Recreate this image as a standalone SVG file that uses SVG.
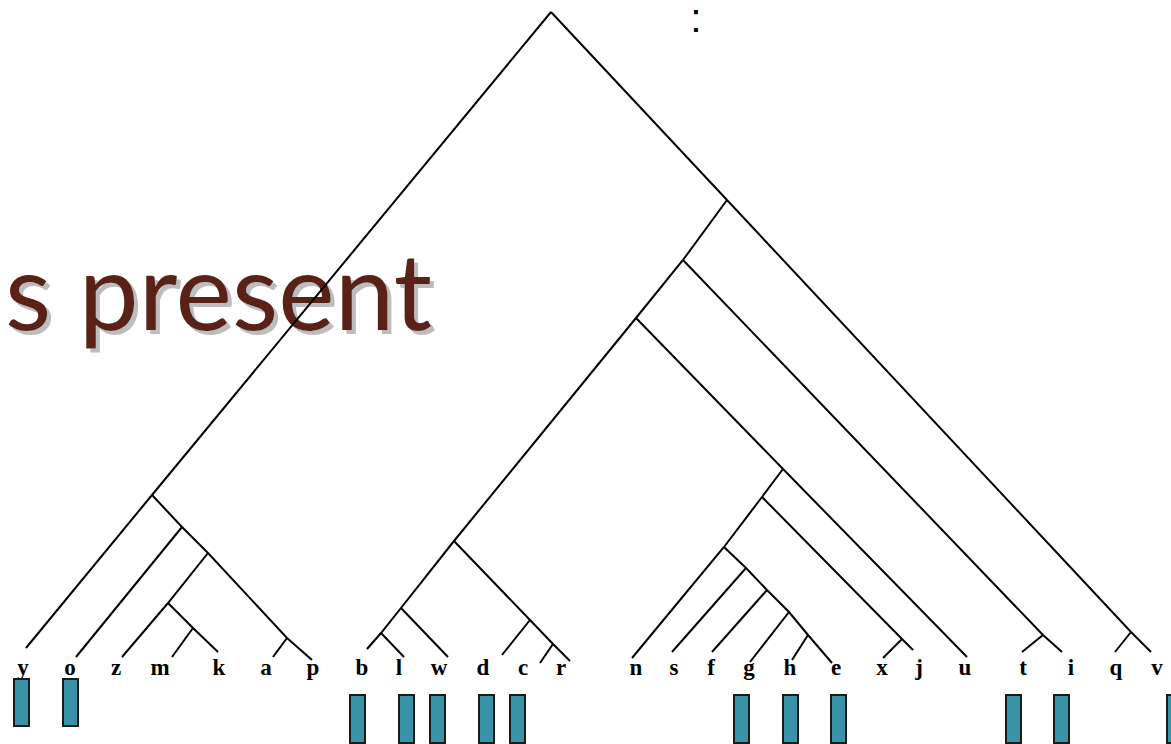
<svg xmlns="http://www.w3.org/2000/svg" width="1171" height="744" viewBox="0 0 1171 744">
<style>
.title{font-family:Lato,"Open Sans",sans-serif;font-size:107px;fill:#5a2416}
.lbl{font-family:"Liberation Serif","Times New Roman",serif;font-weight:bold;font-size:23px;text-anchor:middle;fill:#000}
.edge{fill:none;stroke:#000;stroke-width:2;stroke-linejoin:miter}
.bar{fill:#3a92a7;stroke:#1a1a1a;stroke-width:2}
</style>
<defs>
<filter id="shadow" x="-5%" y="-10%" width="115%" height="130%">
<feDropShadow dx="4" dy="4" stdDeviation="0.6" flood-color="#bdbdbd" flood-opacity="1"/>
</filter>
</defs>
<rect width="1171" height="744" fill="#fff"/>
<g id="title">
<text class="title" x="5" y="330" filter="url(#shadow)">s present</text>
</g>
<g id="ellipsis">
<text x="696" y="32" font-family="Liberation Sans,Arial,sans-serif" font-size="41" text-anchor="middle" fill="#000">:</text>
</g>
<g id="connectors">
<polyline class="edge" points="551,12 152,495 26,648"/>
<polyline class="edge" points="551,12 727,200 1131,632 1151,652"/>
<line class="edge" x1="1131" y1="632" x2="1115" y2="652"/>
<polyline class="edge" points="727,200 683,260 636,318 454,541 401,608 381,633 367,649"/>
<polyline class="edge" points="683,260 1043,635 1062,652"/>
<line class="edge" x1="1043" y1="635" x2="1022" y2="652"/>
<polyline class="edge" points="636,318 783,469 967,657"/>
<polyline class="edge" points="783,469 762,497 724,547 632,658"/>
<polyline class="edge" points="762,497 902,639 913,650"/>
<line class="edge" x1="902" y1="639" x2="883" y2="658"/>
<polyline class="edge" points="724,547 746,568 767,590 789,612 808,635 832,663"/>
<line class="edge" x1="746" y1="568" x2="672" y2="652"/>
<line class="edge" x1="767" y1="590" x2="712" y2="652"/>
<line class="edge" x1="789" y1="612" x2="750" y2="662"/>
<line class="edge" x1="808" y1="635" x2="792" y2="660"/>
<polyline class="edge" points="454,541 530,620 553,644 570,661"/>
<line class="edge" x1="530" y1="620" x2="502" y2="655"/>
<line class="edge" x1="553" y1="644" x2="540" y2="663"/>
<line class="edge" x1="401" y1="608" x2="448" y2="657"/>
<line class="edge" x1="381" y1="633" x2="404" y2="657"/>
<polyline class="edge" points="152,495 182,527 208,553 287,638 312,660"/>
<line class="edge" x1="182" y1="527" x2="76" y2="657"/>
<polyline class="edge" points="208,553 168,603 122,657"/>
<polyline class="edge" points="168,603 193,628 218,652"/>
<line class="edge" x1="193" y1="628" x2="172" y2="657"/>
<line class="edge" x1="287" y1="638" x2="273" y2="657"/>
</g>
<g id="leaves">
<text class="lbl" x="23" y="675">y</text>
<text class="lbl" x="70" y="675">o</text>
<text class="lbl" x="116" y="675">z</text>
<text class="lbl" x="160" y="675">m</text>
<text class="lbl" x="219" y="675">k</text>
<text class="lbl" x="266" y="675">a</text>
<text class="lbl" x="313" y="675">p</text>
<text class="lbl" x="362" y="675">b</text>
<text class="lbl" x="399" y="675">l</text>
<text class="lbl" x="439" y="675">w</text>
<text class="lbl" x="483" y="675">d</text>
<text class="lbl" x="523" y="675">c</text>
<text class="lbl" x="561" y="675">r</text>
<text class="lbl" x="636" y="675">n</text>
<text class="lbl" x="674" y="675">s</text>
<text class="lbl" x="711" y="675">f</text>
<text class="lbl" x="749" y="675">g</text>
<text class="lbl" x="790" y="675">h</text>
<text class="lbl" x="836" y="675">e</text>
<text class="lbl" x="882" y="675">x</text>
<text class="lbl" x="919" y="675">j</text>
<text class="lbl" x="965" y="675">u</text>
<text class="lbl" x="1023" y="675">t</text>
<text class="lbl" x="1071" y="675">i</text>
<text class="lbl" x="1116" y="675">q</text>
<text class="lbl" x="1157" y="675">v</text>
</g>
<g id="bars">
<rect class="bar" x="14" y="679" width="15" height="47"/>
<rect class="bar" x="63" y="679" width="15" height="47"/>
<rect class="bar" x="350" y="695" width="15" height="48"/>
<rect class="bar" x="399" y="695" width="15" height="48"/>
<rect class="bar" x="430" y="695" width="15" height="48"/>
<rect class="bar" x="479" y="695" width="15" height="48"/>
<rect class="bar" x="510" y="695" width="15" height="48"/>
<rect class="bar" x="734" y="695" width="15" height="48"/>
<rect class="bar" x="783" y="695" width="15" height="48"/>
<rect class="bar" x="831" y="695" width="15" height="48"/>
<rect class="bar" x="1006" y="695" width="15" height="48"/>
<rect class="bar" x="1054" y="695" width="15" height="48"/>
<rect class="bar" x="1167" y="695" width="15" height="48"/>
</g>
</svg>
